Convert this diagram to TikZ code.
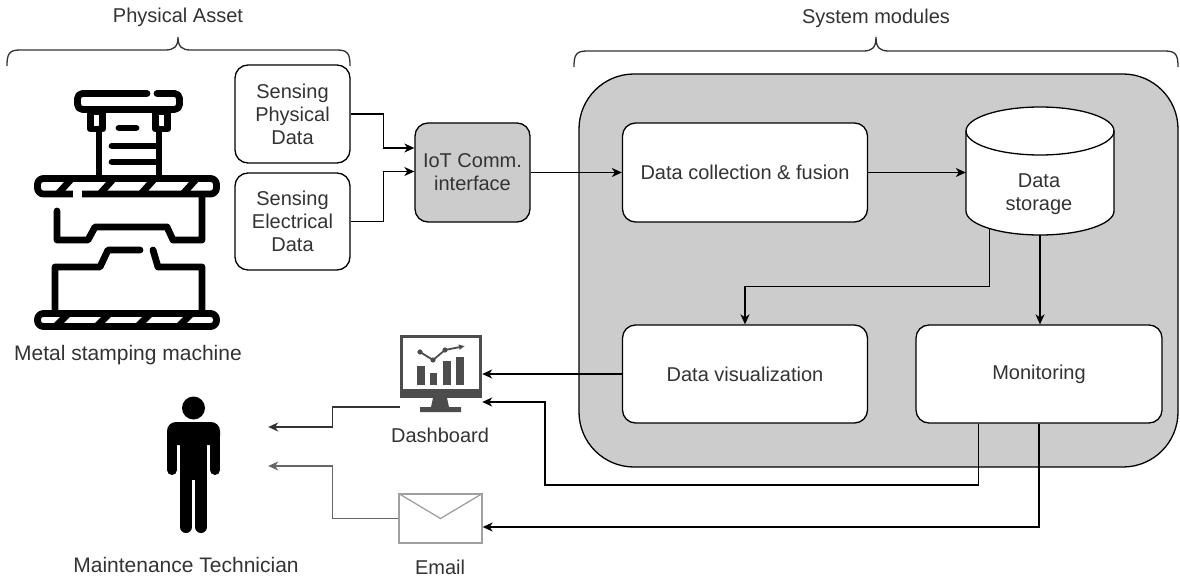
\documentclass[tikz,border=0pt]{standalone}
\usepackage{fontspec}
\setmainfont{Liberation Sans}
\usetikzlibrary{arrows.meta,calc}
\definecolor{txt}{HTML}{333333}
\definecolor{panel}{HTML}{CCCCCC}
\definecolor{icongray}{HTML}{4D4D4D}
\definecolor{envgray}{HTML}{A0A0A0}
\definecolor{wiregray}{HTML}{333333}
\definecolor{wirelight}{HTML}{666666}

\begin{document}
\begin{tikzpicture}[x=1pt,y=-1pt,
  font=\fontsize{20}{23}\selectfont,
  lbl/.style={text=txt, align=center, inner sep=0pt},
  biglbl/.style={lbl, font=\fontsize{21}{24}\selectfont},
  box/.style={draw=black, line width=1.3pt, rounded corners=13pt, fill=white,
              text=txt, align=center, inner sep=0pt},
  conn/.style={draw=black, line width=1.3pt,
               -{Stealth[length=10pt,width=9pt,inset=3pt]}},
  brace/.style={draw=txt, line width=1.3pt},
  machine/.style={line width=6.8pt, line cap=round, line join=round},
  holder/.style={inner sep=0pt},
]
\useasboundingbox (0,0) rectangle (1180,577);
\fill[white] (0,0) rectangle (1180,577);

% ---------- group labels and braces ----------
\node[lbl] (paLabel) at (178,17) {Physical Asset};
\node[lbl] (smLabel) at (876,18) {System modules};
\draw[brace] (7,66) .. controls (7,54) and (9,50) .. (20,50) -- (165,50)
  .. controls (174,50) and (178,47) .. (178,37)
  .. controls (178,47) and (182,50) .. (191,50) -- (337,50)
  .. controls (348,50) and (350,54) .. (350,66);
\draw[brace] (574,67) .. controls (574,55) and (576,51) .. (587,51) -- (863,51)
  .. controls (872,51) and (876,48) .. (876,37)
  .. controls (876,48) and (880,51) .. (889,51) -- (1165,51)
  .. controls (1176,51) and (1178,55) .. (1178,67);

% ---------- system panel ----------
\node[draw=black, line width=1.3pt, fill=panel, rounded corners=55pt,
      minimum width=599pt, minimum height=393pt, inner sep=0pt] (sys) at (878.5,270.5) {};

% ---------- boxes ----------
\node[box, minimum width=115pt, minimum height=98pt] (sp) at (292.5,114) {Sensing\\Physical\\Data};
\node[box, minimum width=115pt, minimum height=97pt] (se) at (292.5,221.5) {Sensing\\Electrical\\Data};
\node[box, fill=panel, minimum width=115pt, minimum height=99pt] (iot) at (472.5,172.5) {IoT Comm.\\interface};
\node[box, minimum width=245pt, minimum height=99pt] (dcf) at (745,172.5) {Data collection \& fusion};
\node[box, minimum width=245pt, minimum height=98pt] (dvz) at (745,374) {Data visualization};
\node[box, minimum width=246pt, minimum height=98pt] (mon) at (1039,374) {Monitoring};

% ---------- data storage cylinder ----------
\node[holder, minimum width=148pt, minimum height=128pt] (dst) at (1040,171) {};
\path[draw=black, line width=1.3pt, fill=white] (966,131) -- (966,211)
  arc[start angle=180, end angle=360, x radius=74pt, y radius=24pt] -- (1114,131)
  arc[start angle=0, end angle=180, x radius=74pt, y radius=24pt] -- cycle;
\draw[line width=1.3pt] (966,131) arc[start angle=180, end angle=360, x radius=74pt, y radius=24pt];
\node[lbl] (dstText) at (1039,194) {Data\\storage};

% ---------- dashboard icon ----------
\node[holder, minimum width=82pt, minimum height=77pt] (dash) at (441,373.5) {};
\begin{scope}[icongray]
  \draw[line width=3pt] (401.5,336.5) rectangle (480.5,396);
  \fill (400,389) rectangle (482,398);
  \fill (433,398) -- (447,398) -- (449,407) -- (461,407) -- (461,412)
        -- (420,412) -- (420,407) -- (431,407) -- cycle;
  \fill (417,366) rectangle (425,385);
  \fill (430,373) rectangle (437,385);
  \fill (443,361) rectangle (451,385);
  \fill (456,357) rectangle (464,385);
  \draw[line width=1.8pt, -{Latex[length=6pt,width=6pt]}]
        (420,352) -- (433,360) -- (445,350) -- (465,346);
  \fill (420,352) circle[radius=2.6pt] (433,360) circle[radius=2.6pt] (445,350) circle[radius=2.6pt];
\end{scope}
\node[lbl] (dashLabel) at (440,435) {Dashboard};

% ---------- email icon ----------
\node[draw=envgray, line width=1.3pt, fill=white, minimum width=83pt,
      minimum height=49pt, inner sep=0pt] (email) at (440.5,518.5) {};
\draw[envgray, line width=1.3pt] (email.north west) -- (email.center) -- (email.north east);
\node[lbl] (emailLabel) at (440,567) {Email};

% ---------- technician icon ----------
\node[holder, minimum width=53pt, minimum height=137pt] (tech) at (193.5,464.5) {};
\begin{scope}[black]
  \fill (193.5,408) circle[radius=11.5pt];
  \fill[rounded corners=9pt] (167,422) rectangle (220,445);
  \draw[line width=10pt, line cap=round] (172,435) -- (172,470);
  \draw[line width=10pt, line cap=round] (215,435) -- (215,470);
  \fill (180,435) rectangle (207,480);
  \draw[line width=12pt, line cap=round] (186,470) -- (186,527);
  \draw[line width=12pt, line cap=round] (201,470) -- (201,527);
\end{scope}
\node[biglbl] (techLabel) at (186,565) {Maintenance Technician};

% ---------- stamping press icon ----------
\node[holder, minimum width=186pt, minimum height=240pt] (press) at (127,210) {};
\begin{scope}[machine]
  % head with notch
  \draw[rounded corners=5pt] (157,93.5) -- (179.5,93.5) -- (179.5,109.5)
        -- (77.5,109.5) -- (77.5,93.5) -- (147,93.5);
  % collars
  \draw (90.5,112) rectangle (102.5,129);
  \draw (155.5,112) rectangle (167.5,129);
  % ram column
  \draw (99,129) -- (99,176);
  \draw (159,129) -- (159,176);
  \draw (119,128) -- (136,128);
  \draw (112,146) -- (157,146);
  \draw (112,162) -- (157,162);
  % upper platen with hatching
  \draw[rounded corners=6pt] (37.5,178.5) rectangle (216.5,194);
  \begin{scope}
    \clip (37.5,178.5) rectangle (216.5,194);
    \foreach \c in {65,107,148,190} \draw[line cap=butt] ({\c-9},196) -- ({\c+9},176);
  \end{scope}
  \draw[white, line width=7.5pt, line cap=butt] (73,194) -- (82,194);
  % upper die
  \draw (57,211) -- (57,240) -- (88,240) -- (95,227) -- (167,227) -- (173,240)
        -- (202,240) -- (202,197);
  % lower die
  \draw (55,310) -- (55,267) -- (100,267) -- (108,250) -- (140,250);
  \draw (153,250) -- (158,267) -- (202,267) -- (202,310);
  % lower platen with hatching
  \draw[rounded corners=6pt] (37.5,313.5) rectangle (216.5,326.5);
  \begin{scope}
    \clip (37.5,313.5) rectangle (216.5,326.5);
    \foreach \c in {62,103,144,185} \draw[line cap=butt] ({\c-9},329) -- ({\c+9},311);
  \end{scope}
\end{scope}
\node[biglbl] (pressLabel) at (128,355) {Metal stamping machine};

% ---------- connectors ----------
\draw[conn] (sp.east) -- ++(33,0) |- ([yshift=24.5pt]iot.west);
\draw[conn] (se.east) -- ++(33,0) |- ([yshift=1pt]iot.west);
\draw[conn] (iot.east) -- (dcf.west);
\draw[conn] (dcf.east) -- (dcf.east -| dst.west);
\draw[conn] ([xshift=-50.5pt,yshift=6.5pt]dst.south) |- ([yshift=38pt]dvz.north) -- (dvz.north);
\draw[conn] (dst.south) -- (dst.south |- mon.north);
\draw[conn] (dvz.west) -- (dvz.west -| dash.east);
\draw[conn] ([xshift=-60.5pt]mon.south) |- (545,485) |- ([yshift=-28.5pt]dash.east);
\draw[conn] (mon.south) |- ([yshift=-8.5pt]email.east);
\draw[conn, draw=wiregray] ([yshift=-33.5pt]dash.west) -- ++(-67,0)
      |- ([xshift=48pt,yshift=37.5pt]tech.east);
\draw[conn, draw=wirelight] (email.west) -- ++(-66,0)
      |- ([xshift=48pt,yshift=-1.5pt]tech.east);
\end{tikzpicture}
\end{document}
